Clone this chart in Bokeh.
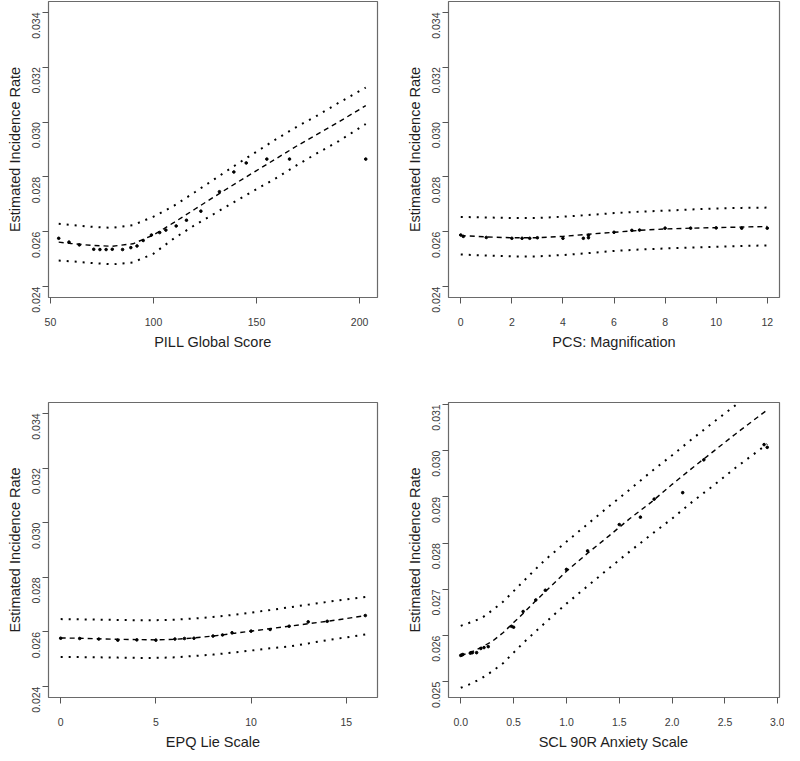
import math
from bokeh.plotting import figure
from bokeh.layouts import column, row
from bokeh.models import Range1d, FixedTicker, PrintfTickFormatter
from bokeh.embed import file_html
from bokeh.resources import INLINE

# ---------------- data ----------------
# Panel 1: PILL Global Score
pill_x = [54, 60, 70, 80, 90, 100, 110, 120, 130, 140, 150, 160, 170, 180, 190, 203]
pill_fit = [0.02562, 0.02557, 0.02550, 0.02547, 0.02556, 0.02588, 0.02634, 0.02682,
            0.02730, 0.02777, 0.02823, 0.02869, 0.02915, 0.02958, 0.03001, 0.03060]
pill_upper = [0.02629, 0.02625, 0.02618, 0.02614, 0.02624, 0.02655, 0.02695, 0.02744,
              0.02794, 0.02844, 0.02892, 0.02940, 0.02985, 0.03026, 0.03071, 0.03126]
pill_lower = [0.02495, 0.02492, 0.02486, 0.02481, 0.02488, 0.02520, 0.02576, 0.02624,
              0.02668, 0.02712, 0.02755, 0.02798, 0.02845, 0.02889, 0.02931, 0.02993]
pill_obs_x = [54, 59, 64, 71, 74, 77, 80, 85, 89, 92, 95, 99, 103, 106, 111, 116,
              123, 132, 139, 145, 155, 166, 203]
pill_obs_y = [0.02576, 0.02562, 0.02552, 0.02536, 0.02535, 0.02535, 0.02536, 0.02535,
              0.02542, 0.02548, 0.02568, 0.02588, 0.02597, 0.02606, 0.02621, 0.02642,
              0.02675, 0.02746, 0.02818, 0.02851, 0.02865, 0.02865, 0.02865]

# Panel 2: PCS Magnification
pcs_x = [0, 1, 2, 3, 4, 5, 6, 7, 8, 9, 10, 11, 12]
pcs_fit = [0.02586, 0.02581, 0.02578, 0.02578, 0.02583, 0.02591, 0.02598, 0.02605,
           0.02610, 0.02613, 0.02615, 0.02617, 0.02619]
pcs_upper = [0.02654, 0.02652, 0.02650, 0.02650, 0.02655, 0.02661, 0.02668, 0.02673,
             0.02677, 0.02681, 0.02685, 0.02687, 0.02688]
pcs_lower = [0.02517, 0.02513, 0.02510, 0.02510, 0.02515, 0.02522, 0.02530, 0.02535,
             0.02539, 0.02542, 0.02545, 0.02548, 0.02550]
pcs_obs_x = [0, 0.1, 1, 2, 2.4, 2.7, 3, 4, 4.8, 5, 5, 6, 6.7, 7, 8, 9, 10, 11, 12]
pcs_obs_y = [0.02588, 0.02583, 0.02579, 0.02576, 0.02576, 0.02576, 0.02578, 0.02576,
             0.02576, 0.02578, 0.02587, 0.02598, 0.02605, 0.02606, 0.02613, 0.02613,
             0.02614, 0.02613, 0.02613]

# Panel 3: EPQ Lie Scale
epq_x = [0, 1, 2, 3, 4, 5, 6, 7, 8, 9, 10, 11, 12, 13, 14, 15, 16]
epq_fit = [0.02578, 0.02577, 0.02575, 0.02573, 0.02572, 0.02571, 0.02573, 0.02578, 0.02585,
           0.02594, 0.02603, 0.02612, 0.02621, 0.02630, 0.02639, 0.02649, 0.02660]
epq_upper = [0.02647, 0.02646, 0.02645, 0.02644, 0.02643, 0.02643, 0.02645, 0.02649, 0.02655,
             0.02662, 0.02671, 0.02680, 0.02690, 0.02700, 0.02710, 0.02719, 0.02728]
epq_lower = [0.02508, 0.02508, 0.02507, 0.02506, 0.02505, 0.02505, 0.02507, 0.02512, 0.02517,
             0.02524, 0.02532, 0.02540, 0.02547, 0.02558, 0.02570, 0.02580, 0.02591]
epq_obs_x = [0, 1, 2, 3, 4, 5, 6, 6.5, 7, 8, 8.5, 9, 10, 11, 12, 13, 14, 16]
epq_obs_y = [0.02577, 0.02576, 0.02574, 0.02570, 0.02571, 0.02570, 0.02574, 0.02576, 0.02577,
             0.02585, 0.02589, 0.02597, 0.02603, 0.02609, 0.02621, 0.02637, 0.02639, 0.02660]

# Panel 4: SCL 90R Anxiety Scale
scl_x = [0, 0.1, 0.2, 0.3, 0.4, 0.5, 0.6, 0.7, 0.8, 1.0, 1.2, 1.4, 1.6, 1.8, 2.0, 2.2, 2.4, 2.6, 2.9]
scl_fit = [0.02557, 0.02564, 0.02575, 0.02588, 0.02606, 0.02628, 0.02650, 0.02673, 0.02695,
           0.02739, 0.02778, 0.02815, 0.02853, 0.02888, 0.02927, 0.02964, 0.03000, 0.03036, 0.03088]
scl_upper = [0.02621, 0.02629, 0.02638, 0.02655, 0.02673, 0.02696, 0.02719, 0.02742, 0.02764,
             0.02803, 0.02841, 0.02879, 0.02916, 0.02954, 0.02990, 0.03027, 0.03063, 0.03098, 0.03150]
scl_lower = [0.02487, 0.02496, 0.02508, 0.02523, 0.02540, 0.02563, 0.02586, 0.02607, 0.02628,
             0.02669, 0.02707, 0.02745, 0.02782, 0.02818, 0.02853, 0.02891, 0.02926, 0.02963, 0.03014]
scl_obs_x = [0, 0.01, 0.02, 0.09, 0.10, 0.11, 0.15, 0.19, 0.22, 0.26, 0.48, 0.50, 0.59, 0.71,
             0.80, 1.0, 1.2, 1.5, 1.7, 1.83, 2.1, 2.3, 2.87, 2.9]
scl_obs_y = [0.02557, 0.02558, 0.02559, 0.02562, 0.02563, 0.02563, 0.02563, 0.02572, 0.02574,
             0.02576, 0.02620, 0.02618, 0.02652, 0.02677, 0.02698, 0.02743, 0.02783, 0.02840,
             0.02856, 0.02895, 0.02909, 0.02980, 0.03013, 0.03007]

y_ticks_a = [0.024, 0.026, 0.028, 0.030, 0.032, 0.034]
y_ticks_b = [0.025, 0.026, 0.027, 0.028, 0.029, 0.030, 0.031]
pill_ticks = [50, 100, 150, 200]
pcs_ticks = [0, 2, 4, 6, 8, 10, 12]
epq_ticks = [0, 5, 10, 15]
scl_ticks = [0.0, 0.5, 1.0, 1.5, 2.0, 2.5, 3.0]

FONT = "Liberation Sans"


def make_panel(xr, yr, xticks, yticks, xfmt, xlabel, borders, w, h,
               xs, fit, up, lo, ox, oy):
    L, R, T, B = borders
    p = figure(width=w, height=h, x_range=Range1d(*xr), y_range=Range1d(*yr),
               output_backend="svg", toolbar_location=None,
               min_border_left=L, min_border_right=R, min_border_top=T, min_border_bottom=B)
    p.grid.visible = False
    p.outline_line_color = "#6a6a6a"
    p.outline_line_width = 1.2
    p.background_fill_color = "white"
    p.border_fill_color = "white"

    xa = p.xaxis[0]
    ya = p.yaxis[0]
    xa.ticker = FixedTicker(ticks=xticks)
    ya.ticker = FixedTicker(ticks=yticks)
    xa.formatter = PrintfTickFormatter(format=xfmt)
    ya.formatter = PrintfTickFormatter(format="%.3f")
    for ax in (xa, ya):
        ax.axis_line_color = None
        ax.major_tick_line_color = "#555555"
        ax.major_tick_out = 6
        ax.major_tick_in = 0
        ax.minor_tick_line_color = None
        ax.major_label_text_font = FONT
        ax.major_label_text_font_size = "10.5px"
        ax.major_label_text_color = "#3a3a3a"
        ax.axis_label_text_font = FONT
        ax.axis_label_text_font_size = "14.5px"
        ax.axis_label_text_font_style = "normal"
        ax.axis_label_text_color = "#1e1e1e"
    xa.major_label_standoff = 14
    ya.major_label_standoff = 6
    xa.axis_label_standoff = 5
    ya.axis_label_standoff = 3
    ya.major_label_orientation = math.pi / 2
    xa.axis_label = xlabel
    ya.axis_label = "Estimated Incidence Rate"

    p.line(xs, up, line_color="black", line_width=2, line_dash="2 6")
    p.line(xs, lo, line_color="black", line_width=2, line_dash="2 6")
    p.line(xs, fit, line_color="black", line_width=1.4, line_dash="5 4")
    p.scatter(ox, oy, size=2.6, color="black")
    return p


W, H1, H2 = 392, 372, 380
p1 = make_panel((49.05, 208.7), (0.0236, 0.0344), pill_ticks, y_ticks_a, "%d",
                "PILL Global Score", (48, 15, 1, 75), W, H1,
                pill_x, pill_fit, pill_upper, pill_lower, pill_obs_x, pill_obs_y)
p2 = make_panel((-0.48, 12.48), (0.0236, 0.0344), pcs_ticks, y_ticks_a, "%d",
                "PCS: Magnification", (56, 5, 1, 75), W, H1,
                pcs_x, pcs_fit, pcs_upper, pcs_lower, pcs_obs_x, pcs_obs_y)
p3 = make_panel((-0.64, 16.64), (0.0236, 0.0344), epq_ticks, y_ticks_a, "%d",
                "EPQ Lie Scale", (48, 15, 30, 54), W, H2,
                epq_x, epq_fit, epq_upper, epq_lower, epq_obs_x, epq_obs_y)
p4 = make_panel((-0.116, 3.016), (0.02466, 0.03104), scl_ticks, y_ticks_b, "%.1f",
                "SCL 90R Anxiety Scale", (56, 5, 30, 54), W, H2,
                scl_x, scl_fit, scl_upper, scl_lower, scl_obs_x, scl_obs_y)

layout = column(row(p1, p2), row(p3, p4))
open("out.html", "w").write(file_html(layout, INLINE))
